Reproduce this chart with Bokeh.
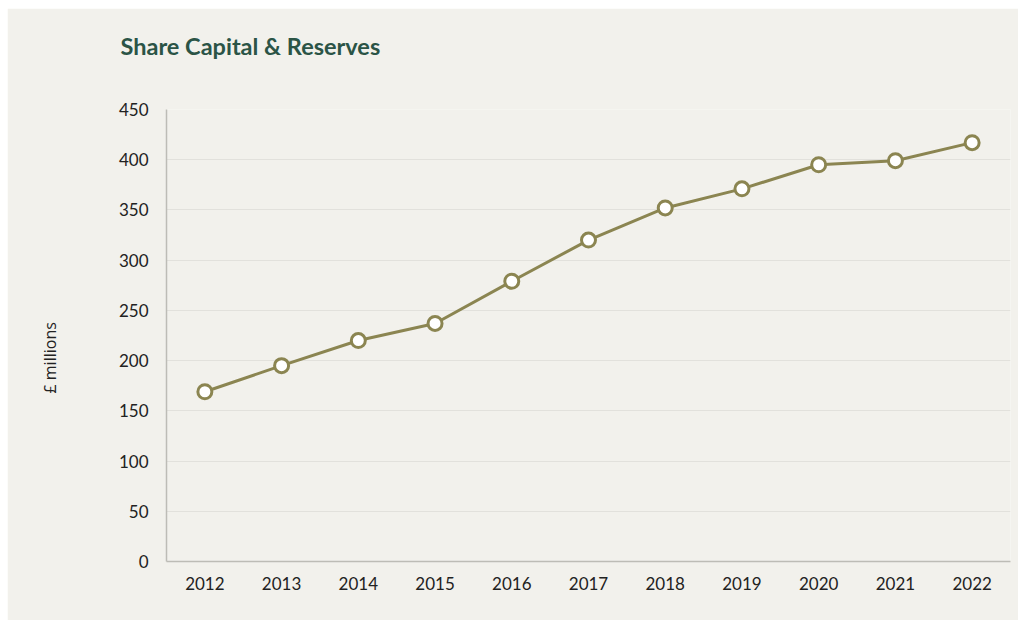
from bokeh.plotting import figure
from bokeh.embed import file_html
from bokeh.resources import INLINE
from bokeh.models import ColumnDataSource, Range1d, Title

years = ["2012", "2013", "2014", "2015", "2016", "2017", "2018", "2019", "2020", "2021", "2022"]
values = [169, 195, 220, 237, 279, 320, 352, 371, 395, 399, 417]
y_ticks = [0, 50, 100, 150, 200, 250, 300, 350, 400, 450]

BG = "#f2f1ec"
LINE = "#8b8551"

src = ColumnDataSource(dict(year=years, value=values))

p = figure(x_range=years, y_range=Range1d(0, 450), width=1011, height=612,
           output_backend="svg", toolbar_location=None,
           min_border_left=159, min_border_right=8, min_border_top=101, min_border_bottom=59,
           background_fill_color=BG, border_fill_color=BG, outline_line_color=None,
           margin=(8, 4, 2, 7))
p.title.visible = False

# spacer nearest the frame, then the title further out
p.add_layout(Title(text=" ", text_font_size="1px", standoff=47, text_color=BG), "above")
p.add_layout(Title(text="Share Capital & Reserves", align="left", offset=-46, standoff=0,
                   text_font="Lato", text_font_size="23.5px", text_font_style="bold",
                   text_color="#2b5446"), "above")

p.add_layout(Title(text=" ", text_font_size="1px", standoff=52, text_color=BG), "left")
p.add_layout(Title(text="£ millions", align="left", offset=168, standoff=0,
                   text_font="Open Sans", text_font_size="16px", text_font_style="normal",
                   text_color="#222222"), "left")

p.line("year", "value", source=src, line_color=LINE, line_width=3)
p.scatter("year", "value", source=src, size=14, fill_color="white", line_color=LINE, line_width=3)

p.yaxis.ticker = y_ticks

for ax in (p.xaxis, p.yaxis):
    ax.major_label_text_font = "Lato"
    ax.major_label_text_font_size = "17px"
    ax.major_label_text_color = "#222222"
    ax.major_tick_line_color = None
    ax.minor_tick_line_color = None
    ax.axis_line_color = "#bdbcb6"
    ax.axis_line_width = 1.5
    ax.major_label_standoff = 12
p.xaxis.major_label_standoff = 9

p.xgrid.grid_line_color = None
p.ygrid.grid_line_color = "#e2e1dc"
p.ygrid.grid_line_width = 1

open("out.html", "w").write(file_html(p, INLINE))
